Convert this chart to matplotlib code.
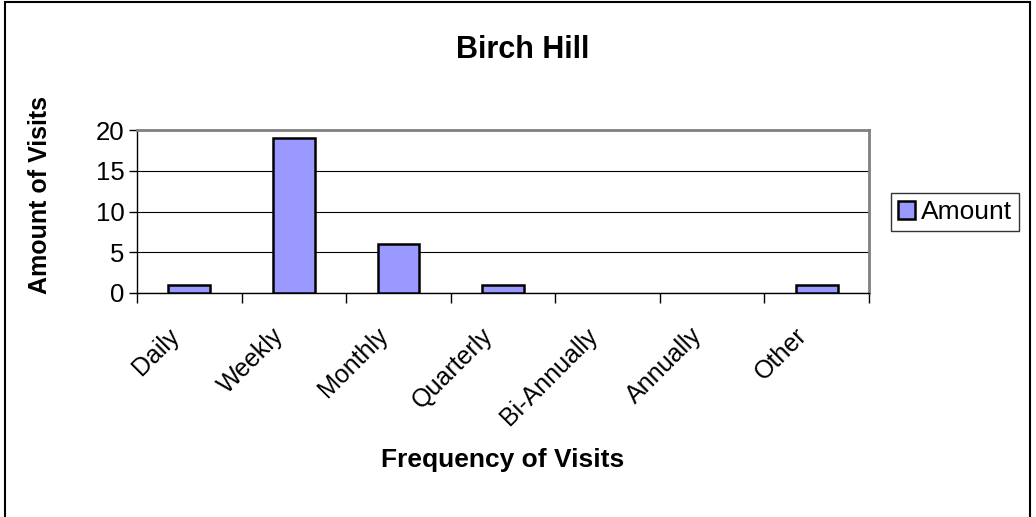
import numpy as np
import matplotlib
matplotlib.use('Agg')
import matplotlib.pyplot as plt
import matplotlib.transforms as mtransforms
from matplotlib.patches import Rectangle

plt.rcParams['font.family'] = ['Liberation Sans', 'DejaVu Sans']

# Data
categories = ['Daily', 'Weekly', 'Monthly', 'Quarterly', 'Bi-Annually', 'Annually', 'Other']
amounts = [1, 19, 6, 1, 0, 0, 1]

W, H = 1036, 517
fig = plt.figure(figsize=(W / 100, H / 100), dpi=100)
ax = fig.add_axes([137/W, 1 - 293/H, (869-137)/W, (293-130)/H])

x = np.arange(len(categories))
# empty categories get no outline, like the original
edge_widths = [1.8 if v > 0 else 0 for v in amounts]
ax.bar(x, amounts, width=0.4, color='#9999FF', edgecolor='black', linewidth=edge_widths,
       label='Amount', zorder=3)

ax.set_xlim(-0.5, len(categories) - 0.5)
ax.set_ylim(0, 20)
ax.set_yticks([0, 5, 10, 15, 20])
ax.yaxis.grid(True, color='black', linewidth=0.8, zorder=0)

# category labels at centres, tick marks at boundaries
ax.set_xticks(x)
ax.set_xticklabels(categories, rotation=45, ha='right', va='center', rotation_mode='anchor')
ax.tick_params(axis='x', which='major', length=0, pad=16, labelsize=18)
ax.set_xticks(np.arange(-0.5, len(categories)), minor=True)
ax.tick_params(axis='x', which='minor', length=7, width=1, color='black')
ax.tick_params(axis='y', length=6, width=1, labelsize=18.5, pad=3)

# nudge the slanted labels down and left
offset = mtransforms.ScaledTranslation(-10/72, -12/72, fig.dpi_scale_trans)
for lbl in ax.get_xticklabels():
    lbl.set_transform(lbl.get_transform() + offset)

for side in ['top', 'right']:
    ax.spines[side].set_color('#808080')
    ax.spines[side].set_linewidth(2)
for side in ['left', 'bottom']:
    ax.spines[side].set_color('black')
    ax.spines[side].set_linewidth(1)

fig.text(40/W, 1 - 195/H, 'Amount of Visits', rotation=90, ha='center', va='center',
         fontsize=18, fontweight='bold')
fig.text(503/W, 1 - 460/H, 'Frequency of Visits', ha='center', va='center',
         fontsize=19, fontweight='bold')
fig.text(523/W, 1 - 50/H, 'Birch Hill', ha='center', va='center',
         fontsize=22, fontweight='bold')

leg = fig.legend(loc='center left', bbox_to_anchor=(891/W, 1 - 212/H),
                 fontsize=19, frameon=True, fancybox=False, edgecolor='black',
                 handlelength=0.65, handleheight=0.65, handletextpad=0.25,
                 borderpad=0.25, borderaxespad=0)
leg.get_frame().set_linewidth(1)
for patch in leg.get_patches():
    patch.set_linewidth(1.8)

# outer chart border
fig.patches.append(Rectangle((5/W, -0.05), (1030-5)/W, 1.05 - 2/H,
                             transform=fig.transFigure, fill=False,
                             edgecolor='black', linewidth=1.5))

fig.savefig('out.png', dpi=100)
